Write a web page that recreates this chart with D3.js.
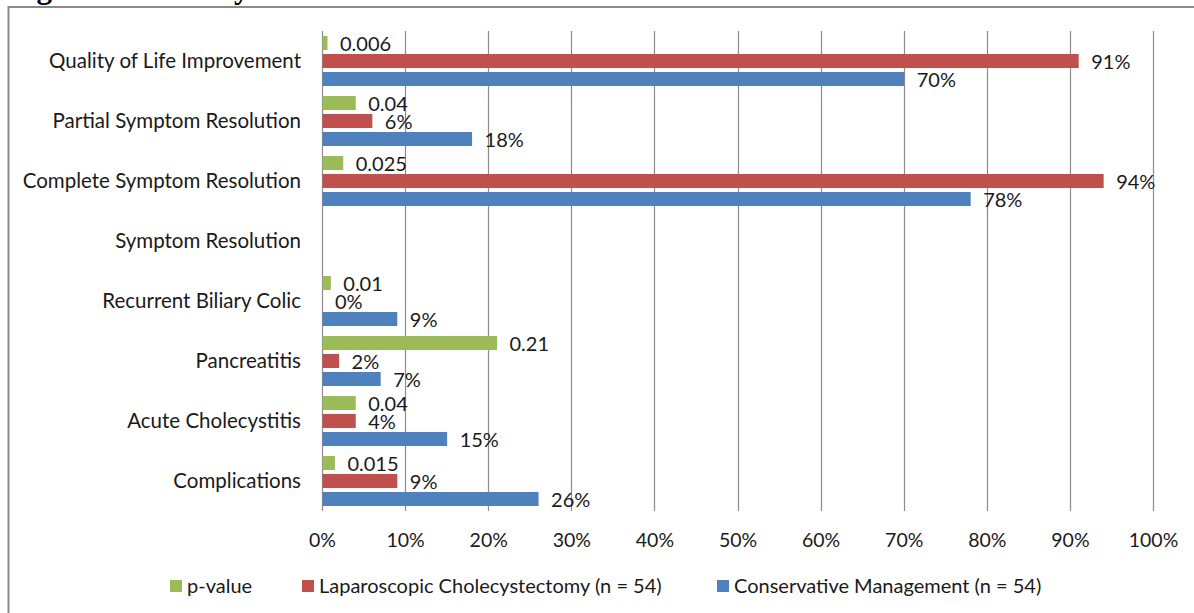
<!DOCTYPE html>
<head>
  <meta charset="utf-8">
  <script src="https://cdn.jsdelivr.net/npm/d3@7"></script>
  <style>
    body { margin: 0; background: #fff; }
    text { font-family: Lato, "Open Sans", sans-serif; fill: #1a1a1a; }
  </style>
</head>
<body>
  <div id="chartDiv"></div>
  <script>

    // chart data
    var categories = ["Quality of Life Improvement", "Partial Symptom Resolution", "Complete Symptom Resolution",
                      "Symptom Resolution", "Recurrent Biliary Colic", "Pancreatitis", "Acute Cholecystitis", "Complications"];
    var pValue  = [0.006, 0.04, 0.025, null, 0.01, 0.21, 0.04, 0.015];
    var lapChol = [0.91, 0.06, 0.94, null, 0, 0.02, 0.04, 0.09];
    var consMgmt = [0.70, 0.18, 0.78, null, 0.09, 0.07, 0.15, 0.26];
    var seriesNames = ["p-value", "Laparoscopic Cholecystectomy (n = 54)", "Conservative Management (n = 54)"];
    var seriesColors = ["#9bbb59", "#c0504d", "#4f81bd"];
    var ticks = [0, 0.1, 0.2, 0.3, 0.4, 0.5, 0.6, 0.7, 0.8, 0.9, 1.0];

    var width = 1194, height = 613;
    var fontSize = 20;

    var svg = d3.select("#chartDiv").append("svg")
        .attr("width", width)
        .attr("height", height);

    // title, mostly cut off by the top edge
    svg.append("text")
        .attr("x", 9)
        .attr("y", -2)
        .style("font-family", "'Liberation Serif', serif")
        .style("font-weight", "bold")
        .style("font-size", "31px")
        .style("fill", "#000")
        .text("Figure 4: Primary Outcomes");

    // frame of the chart area
    svg.append("rect")
        .attr("x", 8.5)
        .attr("y", 7)
        .attr("width", 1200)
        .attr("height", 620)
        .style("fill", "#fff")
        .style("stroke", "#8a8a8a")
        .style("stroke-width", 2);

    var x = d3.scaleLinear().domain([0, 1]).range([322, 1153]);

    var y = d3.scaleBand().domain(categories).range([31, 511]).padding(0);

    var ySub = d3.scaleBand().domain(seriesNames)
        .range([3, 57])
        .paddingInner(0.22)
        .paddingOuter(0.11);

    // gridlines
    svg.append("g").selectAll("line")
        .data(ticks)
      .enter().append("line")
        .attr("x1", function(d) { return Math.round(x(d)) + 0.5; })
        .attr("x2", function(d) { return Math.round(x(d)) + 0.5; })
        .attr("y1", 31)
        .attr("y2", 511)
        .style("stroke", "#8c8c8c")
        .style("stroke-width", 1.2);

    // x tick labels
    var xAxis = d3.axisBottom(x)
        .tickValues(ticks)
        .tickFormat(d3.format(".0%"))
        .tickSize(0)
        .tickPadding(0);

    var gx = svg.append("g")
        .attr("transform", "translate(0,540)")
        .call(xAxis);
    gx.select(".domain").remove();
    gx.selectAll("text")
        .attr("y", 0)
        .attr("dy", "0.36em")
        .style("font-size", "19.5px")
        .style("font-family", "Lato, sans-serif")
        .style("fill", "#1a1a1a");

    // category labels
    var yAxis = d3.axisLeft(y).tickSize(0).tickPadding(0);
    var gy = svg.append("g")
        .attr("transform", "translate(301,0)")
        .call(yAxis);
    gy.select(".domain").remove();
    gy.selectAll("text")
        .style("font-size", "20.5px")
        .style("font-family", "Lato, sans-serif")
        .style("fill", "#1a1a1a");

    // bars
    var rows = [];
    categories.forEach(function(c, i) {
      [pValue, lapChol, consMgmt].forEach(function(arr, s) {
        if (arr[i] !== null) {
          rows.push({ cat: c, series: seriesNames[s], color: seriesColors[s], value: arr[i], isP: s == 0 });
        }
      });
    });

    var bars = svg.append("g").selectAll("g.bar")
        .data(rows)
      .enter().append("g")
        .attr("class", "bar")
        .attr("transform", function(d) { return "translate(0," + (y(d.cat) + ySub(d.series)) + ")"; });

    bars.append("rect")
        .attr("x", x(0) + 0.5)
        .attr("y", 0)
        .attr("height", ySub.bandwidth())
        .attr("width", function(d) { return Math.max(0, x(d.value) - x(0)); })
        .style("fill", function(d) { return d.color; });

    bars.append("text")
        .attr("x", function(d) { return x(d.value) + 13; })
        .attr("y", ySub.bandwidth() / 2 + 1)
        .attr("dy", "0.36em")
        .style("font-size", fontSize + "px")
        .text(function(d) { return d.isP ? String(d.value) : Math.round(d.value * 100) + "%"; });

    // legend
    var legendX = [170, 302, 717];
    var legend = svg.append("g").selectAll("g.item")
        .data(seriesNames)
      .enter().append("g")
        .attr("class", "item")
        .attr("transform", function(d, i) { return "translate(" + legendX[i] + ",586)"; });

    legend.append("rect")
        .attr("x", 0)
        .attr("y", -6)
        .attr("width", 12)
        .attr("height", 12)
        .style("fill", function(d, i) { return seriesColors[i]; });

    legend.append("text")
        .attr("x", 17)
        .attr("y", 0)
        .attr("dy", "0.36em")
        .style("font-size", fontSize + "px")
        .text(function(d) { return d; });

  </script>
</body>
